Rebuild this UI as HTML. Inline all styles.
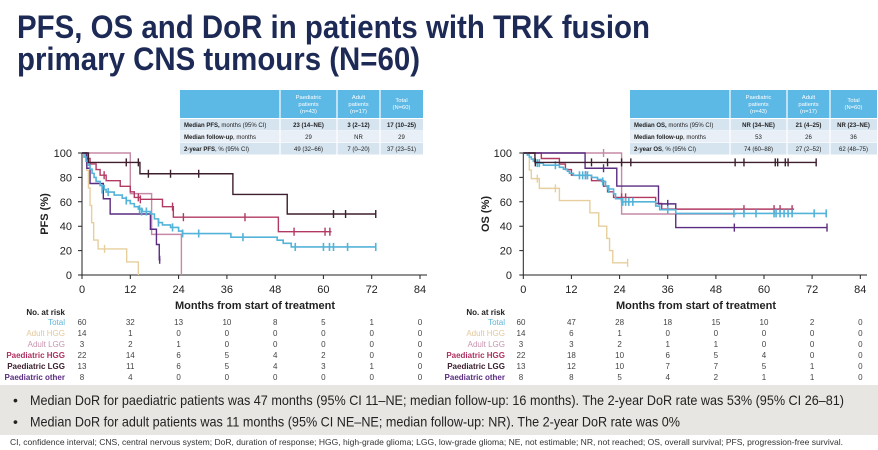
<!DOCTYPE html>
<html><head><meta charset="utf-8"><style>
html,body{margin:0;padding:0;background:#fff;}
svg{display:block;font-family:"Liberation Sans",Arial,sans-serif;}
</style></head><body>
<svg width="878" height="450" viewBox="0 0 878 450" xmlns="http://www.w3.org/2000/svg">
<rect width="878" height="450" fill="#fff"/>
<!-- Title -->
<text x="17" y="38" font-size="32" font-weight="bold" fill="#1c2a55" textLength="633" lengthAdjust="spacingAndGlyphs">PFS, OS and DoR in patients with TRK fusion</text>
<text x="17" y="70" font-size="32" font-weight="bold" fill="#1c2a55" textLength="403" lengthAdjust="spacingAndGlyphs">primary CNS tumours (N=60)</text>

<!-- Left table -->
<g font-size="6" fill="#222">
<rect x="180" y="90" width="243" height="28" fill="#5cb8e4"/>
<rect x="180" y="119" width="243" height="11.5" fill="#d6e4f0"/>
<rect x="180" y="131" width="243" height="11.5" fill="#e8eff7"/>
<rect x="180" y="143" width="243" height="11.5" fill="#d6e4f0"/>
<g stroke="#fff" stroke-width="1.2"><line x1="280" y1="90" x2="280" y2="155"/><line x1="337" y1="90" x2="337" y2="155"/><line x1="380" y1="90" x2="380" y2="155"/></g>
<g fill="#fff" text-anchor="middle" font-size="5.8">
<text x="308.5" y="99">Paediatric</text><text x="308.5" y="106">patients</text><text x="308.5" y="113">(n=43)</text>
<text x="358.5" y="99">Adult</text><text x="358.5" y="106">patients</text><text x="358.5" y="113">(n=17)</text>
<text x="401.5" y="102">Total</text><text x="401.5" y="109">(N=60)</text>
</g>
<text x="184" y="127"><tspan font-weight="bold">Median PFS,</tspan> months (95% CI)</text>
<text x="184" y="139"><tspan font-weight="bold">Median follow-up</tspan>, months</text>
<text x="184" y="151"><tspan font-weight="bold">2-year PFS</tspan>, % (95% CI)</text>
<g text-anchor="middle">
<text x="308.5" y="127" font-weight="bold">23 (14–NE)</text><text x="358.5" y="127" font-weight="bold">3 (2–12)</text><text x="401.5" y="127" font-weight="bold">17 (10–25)</text>
<text x="308.5" y="139">29</text><text x="358.5" y="139">NR</text><text x="401.5" y="139">29</text>
<text x="308.5" y="151">49 (32–66)</text><text x="358.5" y="151">7 (0–20)</text><text x="401.5" y="151">37 (23–51)</text>
</g>
</g>

<!-- Right table -->
<g font-size="6" fill="#222">
<rect x="630" y="90" width="247" height="28" fill="#5cb8e4"/>
<rect x="630" y="119" width="247" height="11.5" fill="#d6e4f0"/>
<rect x="630" y="131" width="247" height="11.5" fill="#e8eff7"/>
<rect x="630" y="143" width="247" height="11.5" fill="#d6e4f0"/>
<g stroke="#fff" stroke-width="1.2"><line x1="730" y1="90" x2="730" y2="155"/><line x1="787" y1="90" x2="787" y2="155"/><line x1="830" y1="90" x2="830" y2="155"/></g>
<g fill="#fff" text-anchor="middle" font-size="5.8">
<text x="758.5" y="99">Paediatric</text><text x="758.5" y="106">patients</text><text x="758.5" y="113">(n=43)</text>
<text x="808.5" y="99">Adult</text><text x="808.5" y="106">patients</text><text x="808.5" y="113">(n=17)</text>
<text x="853.5" y="102">Total</text><text x="853.5" y="109">(N=60)</text>
</g>
<text x="634" y="127"><tspan font-weight="bold">Median OS,</tspan> months (95% CI)</text>
<text x="634" y="139"><tspan font-weight="bold">Median follow-up</tspan>, months</text>
<text x="634" y="151"><tspan font-weight="bold">2-year OS</tspan>, % (95% CI)</text>
<g text-anchor="middle">
<text x="758.5" y="127" font-weight="bold">NR (34–NE)</text><text x="808.5" y="127" font-weight="bold">21 (4–25)</text><text x="853.5" y="127" font-weight="bold">NR (23–NE)</text>
<text x="758.5" y="139">53</text><text x="808.5" y="139">26</text><text x="853.5" y="139">36</text>
<text x="758.5" y="151">74 (60–88)</text><text x="808.5" y="151">27 (2–52)</text><text x="853.5" y="151">62 (48–75)</text>
</g>
</g>

<!-- PFS axes -->
<g stroke="#222" stroke-width="1" fill="none">
<path d="M82,153V275H427"/>
<path d="M78,153H82M78,177.4H82M78,201.8H82M78,226.2H82M78,250.6H82M78,275H82"/>
<path d="M82,275V279M130.3,275V279M178.6,275V279M226.9,275V279M275.2,275V279M323.4,275V279M371.7,275V279M420,275V279"/>
</g>
<g font-size="11" fill="#222" text-anchor="end">
<text x="72" y="157">100</text><text x="72" y="181.4">80</text><text x="72" y="205.8">60</text><text x="72" y="230.2">40</text><text x="72" y="254.6">20</text><text x="72" y="279">0</text>
</g>
<g font-size="11" fill="#222" text-anchor="middle">
<text x="82" y="293">0</text><text x="130.3" y="293">12</text><text x="178.6" y="293">24</text><text x="226.9" y="293">36</text><text x="275.2" y="293">48</text><text x="323.4" y="293">60</text><text x="371.7" y="293">72</text><text x="420" y="293">84</text>
</g>
<text x="255" y="309" font-size="11" font-weight="bold" text-anchor="middle" fill="#222">Months from start of treatment</text>
<text transform="translate(48,214) rotate(-90)" font-size="11" font-weight="bold" text-anchor="middle" fill="#222">PFS (%)</text>

<!-- PFS curves -->
<g transform="translate(82,275) scale(4.024,-1.22)" fill="none" stroke-width="1.4">
<g stroke="#e6cf9c"><path vector-effect="non-scaling-stroke" d="M0,100H1.2V85.7H1.6V71.4H2V57H2.4V42.9H2.9V28.6H4V21.4H11.1V10.7H14V0"/><path vector-effect="non-scaling-stroke" d="M5.6,18.1V24.7"/></g>
<g stroke="#c58aa6"><path vector-effect="non-scaling-stroke" d="M0,100H12V66.7H17.3V33.3H24.7V0"/></g>
<g stroke="#b23a62"><path vector-effect="non-scaling-stroke" d="M0,100H1V95.5H2V91H3.5V86.4H4.5V81.8H6V77.3H9.5V72.7H12V68.2H13V63.6H14.5V62H20V56H22.7V47.4H48.8V35.5H62"/>
<path vector-effect="non-scaling-stroke" d="M5.5,78.5V85.1M14,60.3V66.9M14.5,58.7V65.3M22.5,52.7V59.3M25.2,44.1V50.7M40.5,44.1V50.7M52.7,32.2V38.8M60.4,32.2V38.8M61.6,32.2V38.8"/></g>
<g stroke="#5a2d82"><path vector-effect="non-scaling-stroke" d="M0,100H1.2V87.5H2V75H5.3V62.5H7V50H17V37.5H18.5V25H19.2V12.5H19.5"/><path vector-effect="non-scaling-stroke" d="M19.3,9.2V15.8"/></g>
<g stroke="#54b3d8" stroke-width="1.6"><path vector-effect="non-scaling-stroke" d="M0,100H0.5V96.7H1V93.3H1.5V90H2V86.7H2.5V83.3H3V80H3.5V76.7H4.5V73.3H5.5V70H6V68H8V65.5H10V63H11V61H12V58.5H13V56H14V54H15V52H17V50H18V46H19V43H20V41H22V39H24V36H25V34H37V31H48.5V28.5H50V26H52V23H73"/>
<path vector-effect="non-scaling-stroke" d="M5,66.7V73.3M6.5,64.7V71.3M11,57.7V64.3M14.3,50.7V57.3M14.8,48.7V55.3M16,48.7V55.3M19,39.7V46.3M22.5,35.7V42.3M25,30.7V37.3M29,30.7V37.3M40,27.7V34.3M53,19.7V26.3M60,19.7V26.3M61.5,19.7V26.3M62.5,19.7V26.3M66,19.7V26.3M73,19.7V26.3"/></g>
<g stroke="#3d1e2e"><path vector-effect="non-scaling-stroke" d="M0,100H1.6V92.3H14.4V83H37.5V66H51V50H73"/>
<path vector-effect="non-scaling-stroke" d="M11,89V95.6M14,89V95.6M16.5,79.7V86.3M22,79.7V86.3M29,79.7V86.3M62.5,46.7V53.3M65.5,46.7V53.3M73,46.7V53.3"/></g>
</g>

<!-- OS axes -->
<g stroke="#222" stroke-width="1" fill="none">
<path d="M523.3,153V275H867"/>
<path d="M519.3,153H523.3M519.3,177.4H523.3M519.3,201.8H523.3M519.3,226.2H523.3M519.3,250.6H523.3M519.3,275H523.3"/>
<path d="M523.3,275V279M571.4,275V279M619.6,275V279M667.7,275V279M715.9,275V279M764,275V279M812.1,275V279M860.3,275V279"/>
</g>
<g font-size="11" fill="#222" text-anchor="end">
<text x="512" y="157">100</text><text x="512" y="181.4">80</text><text x="512" y="205.8">60</text><text x="512" y="230.2">40</text><text x="512" y="254.6">20</text><text x="512" y="279">0</text>
</g>
<g font-size="11" fill="#222" text-anchor="middle">
<text x="523.3" y="293">0</text><text x="571.4" y="293">12</text><text x="619.6" y="293">24</text><text x="667.7" y="293">36</text><text x="715.9" y="293">48</text><text x="764" y="293">60</text><text x="812.1" y="293">72</text><text x="860.3" y="293">84</text>
</g>
<text x="696" y="309" font-size="11" font-weight="bold" text-anchor="middle" fill="#222">Months from start of treatment</text>
<text transform="translate(489,214) rotate(-90)" font-size="11" font-weight="bold" text-anchor="middle" fill="#222">OS (%)</text>

<!-- OS curves -->
<g transform="translate(523.3,275) scale(4.012,-1.22)" fill="none" stroke-width="1.4">
<g stroke="#e6cf9c"><path vector-effect="non-scaling-stroke" d="M0,100H1.5V86H2V79H4V71H9V61H16.6V51H18.8V40H20.8V30H21.5V20H22.3V10H26"/><path vector-effect="non-scaling-stroke" d="M3.5,75.7V82.3M8,67.7V74.3M26,6.7V13.3"/></g>
<g stroke="#c58aa6"><path vector-effect="non-scaling-stroke" d="M0,100H24.5V50H53"/><path vector-effect="non-scaling-stroke" d="M20,96.7V103.3"/></g>
<g stroke="#b23a62"><path vector-effect="non-scaling-stroke" d="M0,100H4.5V95.5H9V90.9H10.5V86.4H12V81.8H17V77.3H20V72.7H21V68.2H22.5V63.6H33V58.6H34.5V54H67.5"/>
<path vector-effect="non-scaling-stroke" d="M15.5,78.5V85.1M24.5,60.3V66.9M25.5,60.3V66.9M55,50.7V57.3M62.5,50.7V57.3M64,50.7V57.3M67,50.7V57.3"/></g>
<g stroke="#5a2d82"><path vector-effect="non-scaling-stroke" d="M0,100H15.4V87.5H23.3V72.9H33.7V58.3H38V38.9H75.7"/>
<path vector-effect="non-scaling-stroke" d="M20,84.2V90.8M36,55V61.6M52.6,35.6V42.2M75.7,35.6V42.2"/></g>
<g stroke="#54b3d8" stroke-width="1.6"><path vector-effect="non-scaling-stroke" d="M0,100H1V98.3H1.5V96.7H2V95H2.5V93.3H3V91.7H5V90H9V88.3H10V86.7H11V85H11.5V83.3H12.5V81.7H17V80H18.5V78.3H19.5V76.7H20.5V73H21V70.5H22.5V66.5H23V62.5H24.5V60H33V56.5H34V53.5H38V50.5H75.7"/>
<path vector-effect="non-scaling-stroke" d="M3.5,88.4V95M4,88.4V95M8,86.7V93.3M14,78.4V85M14.8,78.4V85M15.5,78.4V85M16,78.4V85M19.8,73.4V80M21.3,67.2V73.8M24.8,56.7V63.3M25.5,56.7V63.3M26.3,56.7V63.3M27.3,56.7V63.3M36,50.2V56.8M52.5,47.2V53.8M55,47.2V53.8M58,47.2V53.8M62.5,47.2V53.8M63,47.2V53.8M64,47.2V53.8M65,47.2V53.8M66,47.2V53.8M67,47.2V53.8M72.5,47.2V53.8M75.5,47.2V53.8"/></g>
<g stroke="#3d1e2e"><path vector-effect="non-scaling-stroke" d="M0,100H2.9V92.3H73"/>
<path vector-effect="non-scaling-stroke" d="M3,89V95.6M17,89V95.6M21,89V95.6M24.5,89V95.6M26.8,89V95.6M52.8,89V95.6M55,89V95.6M62.8,89V95.6M63.4,89V95.6M65.3,89V95.6M66,89V95.6M73,89V95.6"/></g>
</g>

<!-- Risk table PFS -->
<g font-size="8">
<text x="65" y="315" text-anchor="end" font-weight="bold" fill="#222">No. at risk</text>
<g text-anchor="end">
<text x="65" y="325" fill="#5bb5d8">Total</text>
<text x="65" y="336" fill="#e3c79a">Adult HGG</text>
<text x="65" y="347" fill="#c994b0">Adult LGG</text>
<text x="65" y="358" fill="#b03060" font-weight="bold">Paediatric HGG</text>
<text x="65" y="369" fill="#3a1c2c" font-weight="bold">Paediatric LGG</text>
<text x="65" y="380" fill="#5a2d82" font-weight="bold">Paediatric other</text>
</g>
<g text-anchor="middle" fill="#444">
<text y="325"><tspan x="82">60</tspan><tspan x="130.3">32</tspan><tspan x="178.6">13</tspan><tspan x="226.9">10</tspan><tspan x="275.2">8</tspan><tspan x="323.4">5</tspan><tspan x="371.7">1</tspan><tspan x="420">0</tspan></text>
<text y="336"><tspan x="82">14</tspan><tspan x="130.3">1</tspan><tspan x="178.6">0</tspan><tspan x="226.9">0</tspan><tspan x="275.2">0</tspan><tspan x="323.4">0</tspan><tspan x="371.7">0</tspan><tspan x="420">0</tspan></text>
<text y="347"><tspan x="82">3</tspan><tspan x="130.3">2</tspan><tspan x="178.6">1</tspan><tspan x="226.9">0</tspan><tspan x="275.2">0</tspan><tspan x="323.4">0</tspan><tspan x="371.7">0</tspan><tspan x="420">0</tspan></text>
<text y="358"><tspan x="82">22</tspan><tspan x="130.3">14</tspan><tspan x="178.6">6</tspan><tspan x="226.9">5</tspan><tspan x="275.2">4</tspan><tspan x="323.4">2</tspan><tspan x="371.7">0</tspan><tspan x="420">0</tspan></text>
<text y="369"><tspan x="82">13</tspan><tspan x="130.3">11</tspan><tspan x="178.6">6</tspan><tspan x="226.9">5</tspan><tspan x="275.2">4</tspan><tspan x="323.4">3</tspan><tspan x="371.7">1</tspan><tspan x="420">0</tspan></text>
<text y="380"><tspan x="82">8</tspan><tspan x="130.3">4</tspan><tspan x="178.6">0</tspan><tspan x="226.9">0</tspan><tspan x="275.2">0</tspan><tspan x="323.4">0</tspan><tspan x="371.7">0</tspan><tspan x="420">0</tspan></text>
</g>
</g>

<!-- Risk table OS -->
<g font-size="8">
<text x="505" y="315" text-anchor="end" font-weight="bold" fill="#222">No. at risk</text>
<g text-anchor="end">
<text x="505" y="325" fill="#5bb5d8">Total</text>
<text x="505" y="336" fill="#e3c79a">Adult HGG</text>
<text x="505" y="347" fill="#c994b0">Adult LGG</text>
<text x="505" y="358" fill="#b03060" font-weight="bold">Paediatric HGG</text>
<text x="505" y="369" fill="#3a1c2c" font-weight="bold">Paediatric LGG</text>
<text x="505" y="380" fill="#5a2d82" font-weight="bold">Paediatric other</text>
</g>
<g text-anchor="middle" fill="#444">
<text y="325"><tspan x="521">60</tspan><tspan x="571.4">47</tspan><tspan x="619.6">28</tspan><tspan x="667.7">18</tspan><tspan x="715.9">15</tspan><tspan x="764">10</tspan><tspan x="812.1">2</tspan><tspan x="860.3">0</tspan></text>
<text y="336"><tspan x="521">14</tspan><tspan x="571.4">6</tspan><tspan x="619.6">1</tspan><tspan x="667.7">0</tspan><tspan x="715.9">0</tspan><tspan x="764">0</tspan><tspan x="812.1">0</tspan><tspan x="860.3">0</tspan></text>
<text y="347"><tspan x="521">3</tspan><tspan x="571.4">3</tspan><tspan x="619.6">2</tspan><tspan x="667.7">1</tspan><tspan x="715.9">1</tspan><tspan x="764">0</tspan><tspan x="812.1">0</tspan><tspan x="860.3">0</tspan></text>
<text y="358"><tspan x="521">22</tspan><tspan x="571.4">18</tspan><tspan x="619.6">10</tspan><tspan x="667.7">6</tspan><tspan x="715.9">5</tspan><tspan x="764">4</tspan><tspan x="812.1">0</tspan><tspan x="860.3">0</tspan></text>
<text y="369"><tspan x="521">13</tspan><tspan x="571.4">12</tspan><tspan x="619.6">10</tspan><tspan x="667.7">7</tspan><tspan x="715.9">7</tspan><tspan x="764">5</tspan><tspan x="812.1">1</tspan><tspan x="860.3">0</tspan></text>
<text y="380"><tspan x="521">8</tspan><tspan x="571.4">8</tspan><tspan x="619.6">5</tspan><tspan x="667.7">4</tspan><tspan x="715.9">2</tspan><tspan x="764">1</tspan><tspan x="812.1">1</tspan><tspan x="860.3">0</tspan></text>
</g>
</g>

<!-- Bullet box -->
<rect x="0" y="385" width="878" height="50" fill="#e7e6e2"/>
<g font-size="14" fill="#222">
<text x="13" y="405">•</text>
<text x="30" y="405" textLength="814" lengthAdjust="spacingAndGlyphs">Median DoR for paediatric patients was 47 months (95% CI 11–NE; median follow-up: 16 months). The 2-year DoR rate was 53% (95% CI 26–81)</text>
<text x="13" y="426.5">•</text>
<text x="30" y="426.5" textLength="650" lengthAdjust="spacingAndGlyphs">Median DoR for adult patients was 11 months (95% CI NE–NE; median follow-up: NR). The 2-year DoR rate was 0%</text>
</g>
<text x="10" y="445" font-size="8.5" fill="#333" textLength="833" lengthAdjust="spacingAndGlyphs">CI, confidence interval; CNS, central nervous system; DoR, duration of response; HGG, high-grade glioma; LGG, low-grade glioma; NE, not estimable; NR, not reached; OS, overall survival; PFS, progression-free survival.</text>
</svg>
</body></html>
